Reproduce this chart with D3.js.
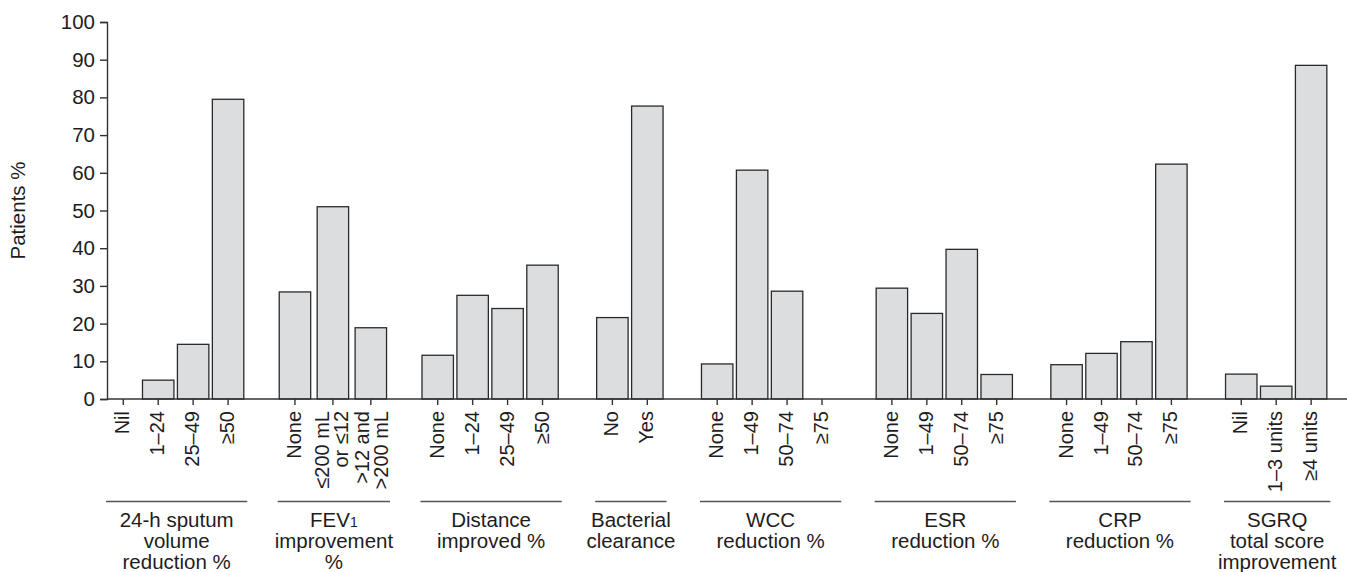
<!DOCTYPE html>
<html>
<head>
<meta charset="utf-8">
<script src="https://cdn.jsdelivr.net/npm/d3@7"></script>
<style>
  body { margin: 0; background: #fff; }
  svg text { font-family: "Liberation Sans", Arial, sans-serif; fill: #1f1c1d; }
</style>
</head>
<body>
<div id="chart"></div>
<script>
// values (patients %)
var sputumCats = ["Nil", "1–24", "25–49", "≥50"];
var sputumVals = [0, 5, 14.5, 79.5];

var fevCats = ["None", "≤200 mL\nor ≤12", ">12 and\n>200 mL"];
var fevVals = [28.4, 51, 18.9];

var distanceCats = ["None", "1–24", "25–49", "≥50"];
var distanceVals = [11.6, 27.5, 24, 35.5];

var bacterialCats = ["No", "Yes"];
var bacterialVals = [21.6, 77.7];

var wccCats = ["None", "1–49", "50–74", "≥75"];
var wccVals = [9.3, 60.7, 28.6, 0];

var esrCats = ["None", "1–49", "50–74", "≥75"];
var esrVals = [29.4, 22.7, 39.7, 6.5];

var crpCats = ["None", "1–49", "50–74", "≥75"];
var crpVals = [9.1, 12.1, 15.2, 62.3];

var sgrqCats = ["Nil", "1–3 units", "≥4 units"];
var sgrqVals = [6.6, 3.4, 88.5];

var groupNames = [
  ["24-h sputum", "volume", "reduction %"],
  ["FEV|1", "improvement", "%"],
  ["Distance", "improved %"],
  ["Bacterial", "clearance"],
  ["WCC", "reduction %"],
  ["ESR", "reduction %"],
  ["CRP", "reduction %"],
  ["SGRQ", "total score", "improvement"]
];

var yTicks = [0, 10, 20, 30, 40, 50, 60, 70, 80, 90, 100];

var groups = [
  [sputumCats, sputumVals], [fevCats, fevVals], [distanceCats, distanceVals],
  [bacterialCats, bacterialVals], [wccCats, wccVals], [esrCats, esrVals],
  [crpCats, crpVals], [sgrqCats, sgrqVals]
].map(function(g, i) {
  return { name: groupNames[i], cats: g[0], vals: g[1], idx: i };
});

// one slot per bar, one empty slot between groups
var slots = [], bars = [];
groups.forEach(function(g, gi) {
  // groups with two-line labels are spread a little wider
  var wide = g.cats.some(function(c) { return c.indexOf("\n") > -1; });
  g.cats.forEach(function(c, ci) {
    var id = "g" + gi + "_" + ci;
    slots.push(id);
    bars.push({ id: id, label: c, value: g.vals[ci],
      rel: ci - (g.cats.length - 1) / 2, wide: wide });
  });
  if (gi < groups.length - 1) slots.push("gap" + gi);
});
var barOf = {};
bars.forEach(function(b) { barOf[b.id] = b; });

var width = 1347, height = 572;
var axisX = 107, y0 = 399, y100 = 22;

var svg = d3.select("#chart").append("svg")
  .attr("width", width)
  .attr("height", height);

var x = d3.scaleBand()
  .domain(slots)
  .range([105.8, 1328.6])
  .paddingInner(0.1)
  .paddingOuter(0.05);

function xLeft(id) {
  var b = barOf[id];
  return x(id) + (b.wide ? b.rel * 3 : 0);
}

var y = d3.scaleLinear().domain([0, 100]).range([y0, y100]);

// bars
svg.append("g").selectAll("rect")
  .data(bars)
  .enter().append("rect")
  .attr("x", function(d) { return xLeft(d.id); })
  .attr("width", x.bandwidth())
  .attr("y", function(d) { return y(d.value); })
  .attr("height", function(d) { return y(0) - y(d.value); })
  .attr("fill", "#dcdddf")
  .attr("stroke", "#2a2a2a")
  .attr("stroke-width", 1.3);

// y axis
var yAxis = svg.append("g")
  .attr("transform", "translate(" + axisX + ",0)")
  .call(d3.axisLeft(y).tickValues(yTicks).tickSizeOuter(0).tickSize(7).tickPadding(5));
yAxis.select(".domain").attr("stroke", "#333").attr("stroke-width", 1.4);
yAxis.selectAll(".tick line").attr("stroke", "#333").attr("stroke-width", 1.4);
yAxis.selectAll(".tick text")
  .attr("font-size", "20.5px")
  .style("font-family", '"Liberation Sans", Arial, sans-serif')
  .attr("fill", "#1f1c1d");

svg.append("text")
  .attr("transform", "translate(25," + (y0 + y100) / 2 + ") rotate(-90)")
  .attr("text-anchor", "middle")
  .attr("font-size", "20.5px")
  .text("Patients %");

// x axis
var xAxis = svg.append("g")
  .attr("transform", "translate(0," + y0 + ")")
  .call(d3.axisBottom(x)
    .tickValues(bars.map(function(b) { return b.id; }))
    .tickSize(6)
    .tickSizeOuter(0)
    .tickFormat(""));
xAxis.select(".domain").remove();
xAxis.selectAll(".tick")
  .attr("transform", function(id) { return "translate(" + (xLeft(id) + x.bandwidth() / 2) + ",0)"; });
xAxis.selectAll(".tick line").attr("stroke", "#333").attr("stroke-width", 1.4);

svg.append("line")
  .attr("x1", axisX).attr("x2", width)
  .attr("y1", y0).attr("y2", y0)
  .attr("stroke", "#333").attr("stroke-width", 1.4);

xAxis.selectAll(".tick").each(function(id) {
  var b = barOf[id];
  var lines = b.label.split("\n");
  var shift = lines.length > 1 ? b.rel * 2 : 0;
  var t = d3.select(this).select("text")
    .attr("transform", "translate(" + shift + ",12) rotate(-90)")
    .attr("x", 0).attr("y", 0).attr("dy", null)
    .attr("text-anchor", "end")
    .attr("font-size", "20px")
    .style("font-family", '"Liberation Sans", Arial, sans-serif')
    .attr("fill", "#1f1c1d");
  t.text(null);
  var lh = 0.95, first = 0.3 - (lines.length - 1) * lh / 2;
  lines.forEach(function(l, i) {
    t.append("tspan")
      .attr("x", 0)
      .attr("y", 0)
      .attr("dy", (first + i * lh) + "em")
      .text(l);
  });
});

// group underlines and names
var gLabels = svg.append("g");
groups.forEach(function(g) {
  var a = xLeft("g" + g.idx + "_0"),
      b = xLeft("g" + g.idx + "_" + (g.cats.length - 1)) + x.bandwidth();
  var x1 = a - 1.5, x2 = b + 3.5, cx = (x1 + x2) / 2;
  gLabels.append("line")
    .attr("x1", x1).attr("x2", x2)
    .attr("y1", 501.5).attr("y2", 501.5)
    .attr("stroke", "#555").attr("stroke-width", 1.6);
  var t = gLabels.append("text")
    .attr("text-anchor", "middle")
    .attr("font-size", "20.5px");
  g.name.forEach(function(n, i) {
    var ts = t.append("tspan")
      .attr("x", cx)
      .attr("y", 526.5 + i * 21);
    if (n.indexOf("|") > -1) {
      var p = n.split("|");
      ts.append("tspan").text(p[0]);
      ts.append("tspan").attr("font-size", "14px").text(p[1]);
    } else {
      ts.text(n);
    }
  });
});
</script>
</body>
</html>
